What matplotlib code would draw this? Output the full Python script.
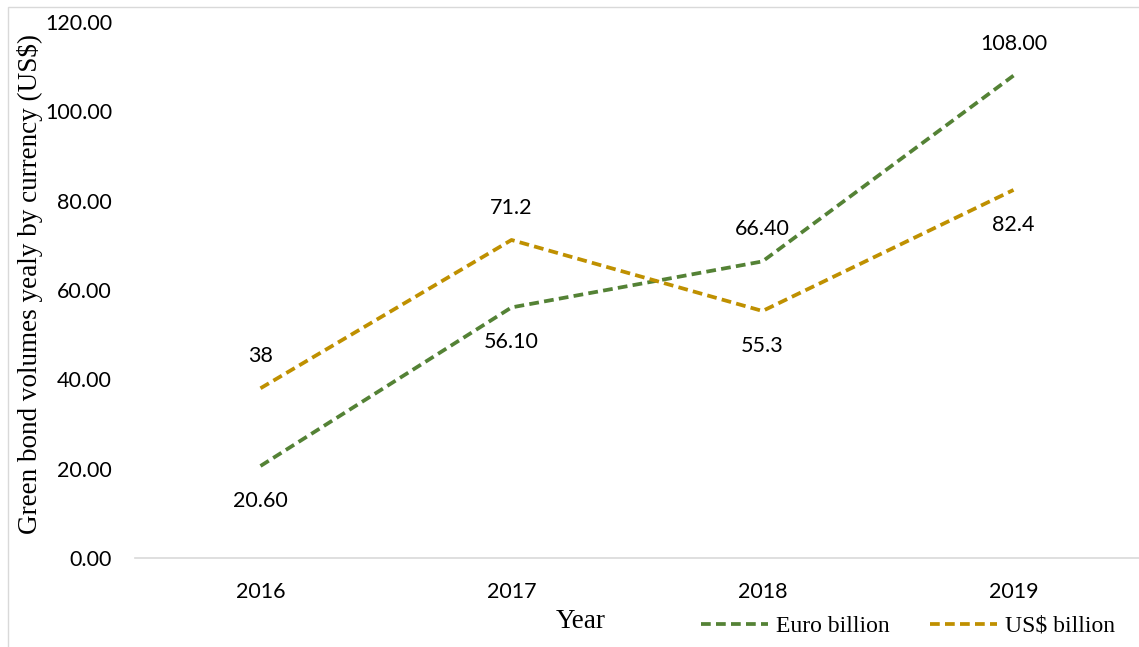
import matplotlib
matplotlib.use("Agg")
import matplotlib.pyplot as plt
from matplotlib.patches import Rectangle

years = ["2016", "2017", "2018", "2019"]
euro = [20.60, 56.10, 66.40, 108.00]
usd = [38, 71.2, 55.3, 82.4]
euro_labels = ["20.60", "56.10", "66.40", "108.00"]
usd_labels = ["38", "71.2", "55.3", "82.4"]
euro_pos = ["below", "below", "above", "above"]
usd_pos = ["above", "above", "below", "below"]
yticks = [0, 20, 40, 60, 80, 100, 120]

green = "#548235"
gold = "#BF9000"
tick_font = "Lato"
serif = "Liberation Serif"
fs = 15.5

fig = plt.figure(figsize=(11.39, 6.47), dpi=100)
ax = fig.add_axes([135/1139, (647-558)/647, 1004/1139, (558-22)/647])
x = list(range(len(years)))
l1, = ax.plot(x, euro, color=green, lw=2.7, ls=(0, (2.6, 1.4)), label="Euro billion")
l2, = ax.plot(x, usd, color=gold, lw=2.7, ls=(0, (2.6, 1.4)), label="US$ billion")

for vals, labs, poss in [(euro, euro_labels, euro_pos), (usd, usd_labels, usd_pos)]:
    for xi, v, t, p in zip(x, vals, labs, poss):
        dy = -35 if p == "below" else 32
        ax.annotate(t, (xi, v), xytext=(0, dy), textcoords="offset pixels", ha="center",
                    va="center", fontsize=fs, family=tick_font, color="#000000")

ax.set_xlim(-0.5, 3.5)
ax.set_ylim(0, 120)
ax.set_xticks(x)
ax.set_xticklabels(years, fontsize=fs, family=tick_font)
ax.set_yticks(yticks)
ax.set_yticklabels([f"{v:.2f}" for v in yticks], fontsize=fs, family=tick_font)
ax.tick_params(length=0)
ax.tick_params(axis="x", pad=17)
ax.tick_params(axis="y", pad=16.5)
for s in ["top", "right", "left"]:
    ax.spines[s].set_visible(False)
ax.spines["bottom"].set_color("#d9d9d9")
ax.spines["bottom"].set_linewidth(1.2)

fig.text(581/1139, 1 - 621/647, "Year", ha="center", va="center", fontsize=19.5, family=serif)
fig.text(30/1139, 1 - 284/647, "Green bond volumes yealy by currency (US$)", rotation=90,
         ha="center", va="center", fontsize=19.5, family=serif)

leg = fig.legend(handles=[l1, l2], loc="center", bbox_to_anchor=(908/1139, 1 - 626/647),
                 ncol=2, frameon=False, prop={"family": serif, "size": 17},
                 handlelength=2.85, columnspacing=1.7, handletextpad=0.35)

fig.patches.append(Rectangle((8/1139, -0.1), 1.2, 1 - 7/647 + 0.1, transform=fig.transFigure,
                             fill=False, edgecolor="#d9d9d9", lw=1))
fig.savefig("out.png", dpi=100)
